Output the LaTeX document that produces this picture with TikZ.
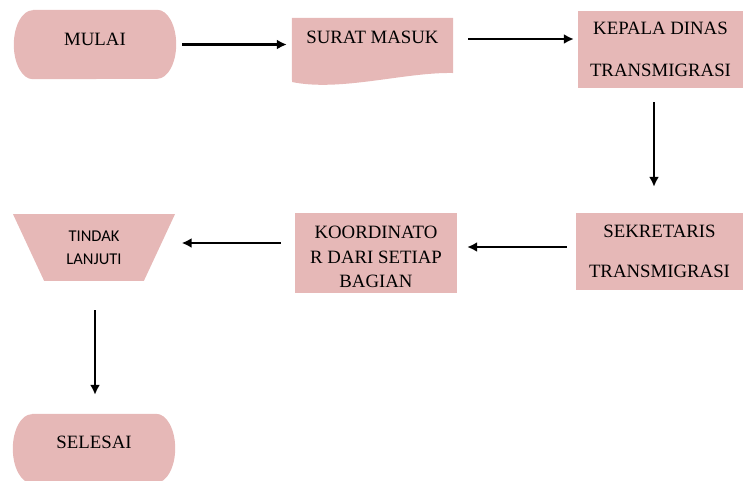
\documentclass[tikz,border=0pt]{standalone}
\usepackage{fontspec}
\setmainfont{Liberation Serif}
\newfontfamily\calibri{Carlito}
\usepackage{tikz}
\usetikzlibrary{backgrounds, shapes.geometric, arrows.meta}
\definecolor{boxpink}{RGB}{230,184,183}

\begin{document}
\begin{tikzpicture}
    [
      x=1pt,
      y=-1pt,
      font=\fontsize{18.8}{22}\selectfont,
      box/.style={rectangle,fill=boxpink,align=center,inner sep=0pt},
      term/.style={rectangle,align=center,inner sep=0pt,minimum width=162pt,minimum height=69pt,text depth=11pt},
      termfill/.style={fill=boxpink},
      lanjut/.style={trapezium,fill=boxpink,align=center,shape border rotate=180,
        trapezium left angle=65,trapezium right angle=65,trapezium stretches body,
        inner xsep=2pt,inner ysep=16.5pt,minimum width=162pt,
        font=\calibri\fontsize{16.5}{23}\selectfont},
      arr/.style={line width=2.2pt,-{Latex[length=10pt,width=10pt]}},
    ]
    \useasboundingbox (0,0) rectangle (743,480);

    \node at (95, 44.5) [term] (mulai) {MULAI};
    \node at (372.5, 50) [box, fill=none, minimum width=161pt, minimum height=64pt, text depth=26pt] (surat) {SURAT MASUK};
    \node at (660.5, 49.5) [box, minimum width=165pt, minimum height=77pt, font=\fontsize{18.8}{42}\selectfont] (kepala) {KEPALA DINAS\\TRANSMIGRASI};

    \node at (659.5, 251.5) [box, minimum width=167pt, minimum height=77pt, font=\fontsize{18.8}{40}\selectfont] (sekr) {SEKRETARIS\\TRANSMIGRASI};
    \node at (376, 253) [box, minimum width=162pt, minimum height=80pt, font=\fontsize{18.8}{24.5}\selectfont, text height=70pt] (koord) {KOORDINATO\\R DARI SETIAP\\BAGIAN};
    \node at (94, 247.5) [lanjut] (tindak) {TINDAK\\LANJUTI};

    \node at (94, 448.5) [term, text depth=13pt] (selesai) {SELESAI};

    \draw[arr] ([xshift=6pt]mulai.east) -- ([xshift=-5pt]mulai.east -| surat.west);
    \draw[arr] ([xshift=15pt,yshift=11pt]surat.east) -- ([xshift=-4pt,yshift=11pt]surat.east -| kepala.west);
    \draw[arr] ([xshift=-6.5pt,yshift=-14pt]kepala.south) -- ([xshift=-6.5pt,yshift=26pt]kepala.south |- sekr.north);
    \draw[arr] ([xshift=-9pt,yshift=4.5pt]sekr.west) -- ([xshift=10pt,yshift=4.5pt]sekr.west -| koord.east);
    \draw[arr] ([xshift=-14pt,yshift=10pt]koord.west) -- ([xshift=22pt,yshift=10pt]koord.west -| tindak.east);
    \draw[arr] ([xshift=1pt,yshift=-29pt]tindak.south) -- ([xshift=1pt,yshift=19pt]tindak.south |- selesai.north);

    \begin{scope}[on background layer]
      \fill[boxpink] (surat.north west) -- (surat.north east) -- (453, 73)
        .. controls (405, 72) and (340, 92) .. (292, 82) -- cycle;
      \fill[termfill] ([xshift=19pt]mulai.north west) -- ([xshift=-19pt]mulai.north east)
        arc[start angle=90, end angle=-90, x radius=19pt, y radius=34.5pt]
        -- ([xshift=19pt]mulai.south west)
        arc[start angle=270, end angle=90, x radius=19pt, y radius=34.5pt] -- cycle;
      \fill[termfill] ([xshift=19pt]selesai.north west) -- ([xshift=-19pt]selesai.north east)
        arc[start angle=90, end angle=-90, x radius=19pt, y radius=34.5pt]
        -- ([xshift=19pt]selesai.south west)
        arc[start angle=270, end angle=90, x radius=19pt, y radius=34.5pt] -- cycle;
    \end{scope}
  \end{tikzpicture}
\end{document}
